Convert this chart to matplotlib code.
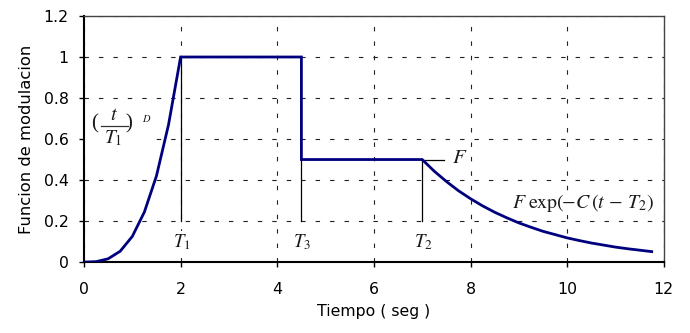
import matplotlib
matplotlib.use("Agg")
import matplotlib.pyplot as plt
from matplotlib.patches import Rectangle

plt.rcParams['font.family'] = ['DejaVu Sans']
plt.rcParams['mathtext.fontset'] = 'stix'

# rise segment
t_rise = [0.0, 0.25, 0.5, 0.75, 1.0, 1.25, 1.5, 1.75, 2.0]
y_rise = [0.0, 0.002, 0.016, 0.053, 0.125, 0.244, 0.42, 0.67, 1.0]
# plateau / step
t_mid = [2.0, 4.5, 4.5, 7.0]
y_mid = [1.0, 1.0, 0.5, 0.5]
# decay segment
t_dec = [7.0, 7.25, 7.5, 7.75, 8.0, 8.25, 8.5, 8.75, 9.0, 9.25, 9.5, 9.75,
         10.0, 10.25, 10.5, 10.75, 11.0, 11.25, 11.5, 11.75]
y_dec = [0.5, 0.443, 0.393, 0.348, 0.309, 0.274, 0.243, 0.216, 0.191, 0.17,
         0.15, 0.134, 0.118, 0.105, 0.093, 0.083, 0.073, 0.065, 0.058, 0.051]

marker_t = [2.0, 4.5, 7.0]
marker_top = [1.0, 0.5, 0.5]
marker_labels = [r'$T_1$', r'$T_3$', r'$T_2$']

x_ticks = [0, 2, 4, 6, 8, 10, 12]
y_ticks = [0, 0.2, 0.4, 0.6, 0.8, 1.0, 1.2]
y_ticklabels = ['0', '0.2', '0.4', '0.6', '0.8', '1', '1.2']

fig = plt.figure(figsize=(6.9, 3.33), dpi=100)
ax = fig.add_axes([0.1217, 0.213, 0.8403, 0.739])

navy = '#00007F'
t_all = t_rise + t_mid[1:] + t_dec[1:]
y_all = y_rise + y_mid[1:] + y_dec[1:]
ax.plot(t_all, y_all, color=navy, lw=2.0, zorder=3, solid_joinstyle='miter')

txt_color = '#1a1a1a'
for t, top, lab in zip(marker_t, marker_top, marker_labels):
    ax.plot([t, t], [0.2, top], color='black', lw=0.9, zorder=2)
    ax.text(t + 0.02, 0.095, lab, ha='center', va='center', fontsize=13.5,
            color=txt_color, zorder=4,
            bbox=dict(boxstyle='square,pad=0.1', fc='white', ec='none'))

# label F at the start of the decay
ax.plot([7.0, 7.45], [0.5, 0.5], color='black', lw=0.9)
ax.text(7.62, 0.51, r'$F$', fontsize=15, ha='left', va='center', color=txt_color)

# decay formula
ax.text(8.86, 0.29, r'$F\;\mathrm{exp}(\!\!-\!C\,(t\,-\,T_2)$', fontsize=14.3,
        ha='left', va='center', color=txt_color, zorder=4,
        bbox=dict(boxstyle='square,pad=0.05', fc='white', ec='none'))

# rise formula (t / T1)^D built from pieces
ax.add_patch(Rectangle((0.03, 0.52), 1.45, 0.23, fc='white', ec='none', zorder=1.5))
ax.text(0.217, 0.676, '(', fontsize=15, family='Liberation Serif',
        ha='center', va='center', color=txt_color, zorder=4)
ax.text(0.63, 0.722, r'$t$', fontsize=14.5, ha='center', va='center',
        color=txt_color, zorder=4)
ax.plot([0.352, 0.91], [0.663, 0.663], color='#333333', lw=0.9, zorder=4)
ax.text(0.60, 0.602, r'$T_1$', fontsize=14, ha='center', va='center',
        color=txt_color, zorder=4)
ax.text(0.92, 0.676, ')', fontsize=15, family='Liberation Serif',
        ha='center', va='center', color=txt_color, zorder=4)
ax.text(1.293, 0.702, r'$D$', fontsize=7.5, ha='center', va='center',
        color=txt_color, zorder=4)

ax.set_xlim(0, 12)
ax.set_ylim(0, 1.2)
ax.set_xticks(x_ticks)
ax.set_xticklabels([str(v) for v in x_ticks])
ax.set_yticks(y_ticks)
ax.set_yticklabels(y_ticklabels)
ax.tick_params(axis='both', direction='out', length=3.6, width=1, labelsize=11.3,
               colors='black')
ax.tick_params(axis='x', pad=11)
ax.tick_params(axis='y', pad=7.5)
ax.grid(True, color='#222222', lw=0.8, linestyle=(0, (4, 9)))
ax.set_axisbelow(True)

for s in ['left', 'bottom']:
    ax.spines[s].set_linewidth(1.5)
    ax.spines[s].set_color('black')
for s in ['top', 'right']:
    ax.spines[s].set_linewidth(1.0)
    ax.spines[s].set_color('#444444')

ax.set_xlabel('Tiempo ( seg )', fontsize=11.3, labelpad=5)
ax.set_ylabel('Funcion de modulacion', fontsize=11.8, labelpad=7)

fig.savefig('out.png', dpi=100)
